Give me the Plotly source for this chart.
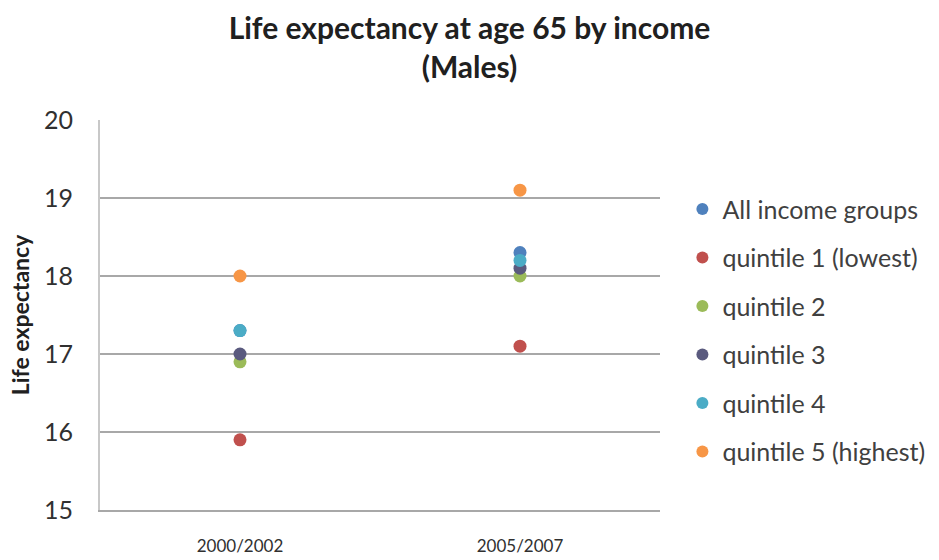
import plotly.graph_objects as go

periods = ["2000/2002", "2005/2007"]
series_names = ["All income groups", "quintile 1 (lowest)", "quintile 2",
                "quintile 3", "quintile 4", "quintile 5 (highest)"]
all_groups = [17.3, 18.3]
q1 = [15.9, 17.1]
q2 = [16.9, 18.0]
q3 = [17.0, 18.1]
q4 = [17.3, 18.2]
q5 = [18.0, 19.1]
values = [all_groups, q1, q2, q3, q4, q5]
colors = ["#4F81BD", "#C0504D", "#9BBB59", "#5A5A7E", "#4BACC6", "#F79646"]
y_ticks = [15, 16, 17, 18, 19, 20]

fig = go.Figure()
for i, (name, vals, col) in enumerate(zip(series_names, values, colors)):
    fig.add_trace(go.Scatter(
        x=periods, y=vals, mode="markers", name=name,
        legendgroup=f"g{i}",
        marker=dict(color=col, size=13, line=dict(width=0)),
    ))

fig.update_layout(
    width=939, height=560,
    margin=dict(l=100, r=279, t=120, b=50, autoexpand=False),
    paper_bgcolor="white", plot_bgcolor="white",
    font=dict(family="Lato, Open Sans, sans-serif", color="#404040"),
    title=dict(text="<b>Life expectancy at age 65 by income<br>(Males)</b>",
               x=0.5, xanchor="center", y=0.93, yanchor="top",
               font=dict(size=30, color="#202020")),
    showlegend=True,
    legend=dict(x=1.04, xanchor="left", y=0.83, yanchor="top",
                font=dict(size=25, color="#404040"),
                tracegroupgap=13, itemsizing="constant", itemwidth=30),
    xaxis=dict(type="category", range=[-0.5, 1.5], showgrid=False,
               showline=True, linecolor="#A8A8A8", linewidth=1.5,
               ticks="", tickfont=dict(size=17, color="#303030"),
               ticklabelstandoff=20, automargin=False),
    yaxis=dict(range=[15, 20], tickvals=y_ticks, showgrid=True,
               gridcolor="#A8A8A8", gridwidth=1.5, showline=True,
               linecolor="#C8C8C8", linewidth=2, zeroline=False,
               ticks="", ticklen=0, ticklabelstandoff=20, automargin=False,
               tickfont=dict(size=25, color="#303030"),
               title=dict(text="<b>Life expectancy</b>", standoff=8,
                          font=dict(size=23, color="#202020"))),
)

fig.write_html("out.html")
